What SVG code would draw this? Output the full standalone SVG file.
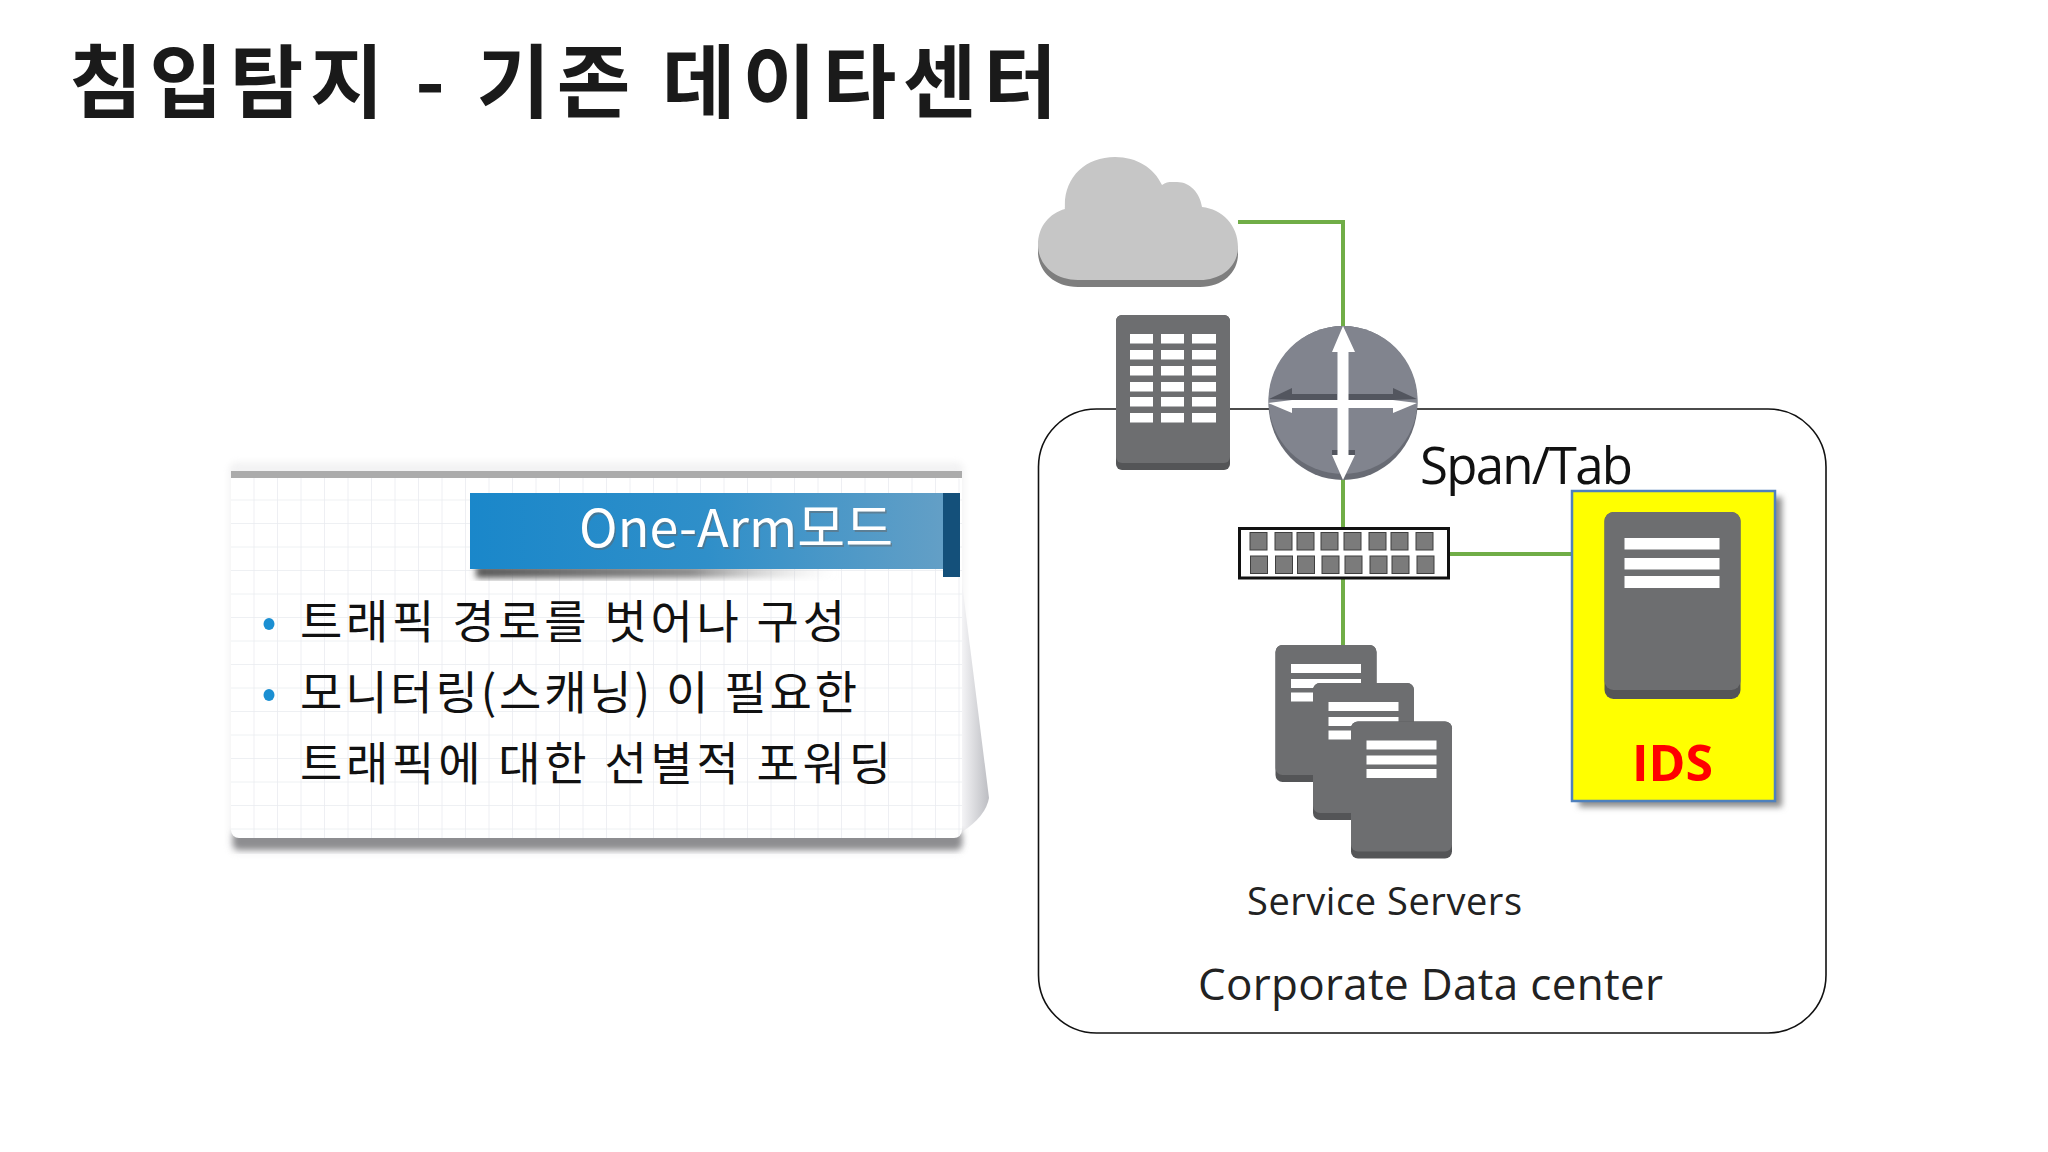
<svg xmlns="http://www.w3.org/2000/svg" width="2048" height="1152" viewBox="0 0 2048 1152">
<style>
.ko{font-family:"Noto Sans CJK KR","Noto Sans",sans-serif}
.la{font-family:"Open Sans","Noto Sans",sans-serif}
.body{font-size:46px;fill:#111;font-weight:400}
.wire{fill:none;stroke:#70ad47;stroke-width:4}
.dk{fill:#6d6e70}
.rim{fill:#545557}
.bar{fill:#fff}
.port{fill:#7b7b7b;stroke:#3f3f3f;stroke-width:1}
</style>
<defs>
<filter id="b3" x="-20%" y="-20%" width="140%" height="140%"><feGaussianBlur stdDeviation="3"/></filter>
<linearGradient id="ban" x1="0" x2="1" y1="0" y2="0"><stop offset="0" stop-color="#1a87ca"/><stop offset="0.5" stop-color="#2f8fc9"/><stop offset="1" stop-color="#639fc6"/></linearGradient>
<linearGradient id="bsh" x1="0" x2="1" y1="0" y2="0"><stop offset="0" stop-color="#555"/><stop offset="0.6" stop-color="#8a8a8a"/><stop offset="1" stop-color="#ddd" stop-opacity="0"/></linearGradient>
<pattern id="grid" width="23.500" height="23.500" patternUnits="userSpaceOnUse" x="231" y="477"><path d="M23.500 0V23.500M0 23.500H23.500" fill="none" stroke="#e9ebf0" stroke-width="1.500"/></pattern>
<linearGradient id="curl" x1="0" x2="1" y1="0" y2="0"><stop offset="0" stop-color="#f4f4f6"/><stop offset="1" stop-color="#bcbdc2"/></linearGradient>
<g id="srv">
<rect x="0" y="0" width="101" height="137" rx="7" class="rim"/>
<path d="M7 0H94a7 7 0 0 1 7 7V123a7 7 0 0 1-7 7H7a7 7 0 0 1-7-7V7a7 7 0 0 1 7-7Z" class="dk"/>
<rect x="15.500" y="19" width="70" height="9" class="bar"/><rect x="15.500" y="34" width="70" height="9" class="bar"/><rect x="15.500" y="47.500" width="70" height="9" class="bar"/>
</g>
</defs>
<rect width="2048" height="1152" fill="#fff"/>
<text id="title" class="ko" x="69" y="111" font-size="80" font-weight="700" fill="#1a1a1a" textLength="988" lengthAdjust="spacing">침입탐지 - 기존 데이타센터</text>

<g id="card">
<rect x="229" y="462" width="735" height="392" rx="8" fill="#dcdcdf" opacity=".35" filter="url(#b3)"/>
<path d="M962 583L989 798Q986 816 962 832Z" fill="url(#curl)"/>
<rect x="233" y="830" width="729" height="20" rx="6" fill="#8d8d90" filter="url(#b3)"/>
<rect x="231" y="471" width="731" height="367" rx="8" fill="#fff"/>
<rect x="231" y="477" width="731" height="361" rx="8" fill="url(#grid)"/>
<rect x="231" y="471" width="731" height="7" fill="#ababab"/>
<rect x="476" y="566" width="360" height="12" fill="url(#bsh)" filter="url(#b3)"/>
<rect x="470" y="493" width="473" height="76" fill="url(#ban)"/>
<rect x="943" y="493" width="17" height="84" fill="#14507a"/>
<text class="ko" x="579" y="547" font-size="52" font-weight="400" fill="#666" opacity=".5" textLength="314" lengthAdjust="spacing" transform="translate(1.500 1.500)">One-Arm모드</text>
<text class="ko" x="579" y="547" font-size="52" font-weight="400" fill="#fff" textLength="314" lengthAdjust="spacing">One-Arm모드</text>
<ellipse cx="269" cy="624" rx="5.500" ry="6" fill="#1b8fd2"/>
<ellipse cx="269" cy="695" rx="5.500" ry="6" fill="#1b8fd2"/>
<text class="ko body" x="300" y="638" textLength="545" lengthAdjust="spacing">트래픽 경로를 벗어나 구성</text>
<text class="ko body" x="300" y="709" textLength="557" lengthAdjust="spacing">모니터링(스캐닝) 이 필요한</text>
<text class="ko body" x="300" y="780" textLength="591" lengthAdjust="spacing">트래픽에 대한 선별적 포워딩</text>
</g>

<g id="datacenter">
<rect x="1038.500" y="409" width="787.500" height="624" rx="58" fill="none" stroke="#111" stroke-width="1.600"/>
<text class="la" x="1198" y="1000" font-size="44" fill="#222" textLength="465" lengthAdjust="spacing">Corporate Data center</text>
</g>

<g id="connectors">
<path class="wire" d="M1238 222H1343V330"/>
<path class="wire" d="M1343 478V527"/>
<path class="wire" d="M1450 554H1572"/>
<path class="wire" d="M1343 579V645"/>
</g>

<g id="cloud">
<path transform="translate(0 7)" fill="#7e7e7e" d="M1078 280C1054 280 1038 264 1038 245C1038 226 1050 213 1065 209C1063 178 1085 157 1115 157C1137 157 1154 168 1162 185C1167 181 1172 182 1177 182C1190 182 1200 193 1202 207C1222 209 1238 225 1238 247C1238 266 1222 280 1200 280Z"/>
<path fill="#c6c6c6" d="M1078 280C1054 280 1038 264 1038 245C1038 226 1050 213 1065 209C1063 178 1085 157 1115 157C1137 157 1154 168 1162 185C1167 181 1172 182 1177 182C1190 182 1200 193 1202 207C1222 209 1238 225 1238 247C1238 266 1222 280 1200 280Z"/>
</g>

<g id="building">
<rect x="1116" y="315" width="114" height="155" rx="6" class="rim"/>
<rect x="1116" y="315" width="114" height="148" rx="6" class="dk"/>
<g class="bar">
<rect x="1130" y="334" width="23" height="9.500"/><rect x="1161" y="334" width="23" height="9.500"/><rect x="1192" y="334" width="24" height="9.500"/>
<rect x="1130" y="350" width="23" height="9.500"/><rect x="1161" y="350" width="23" height="9.500"/><rect x="1192" y="350" width="24" height="9.500"/>
<rect x="1130" y="366" width="23" height="9.500"/><rect x="1161" y="366" width="23" height="9.500"/><rect x="1192" y="366" width="24" height="9.500"/>
<rect x="1130" y="382" width="23" height="9.500"/><rect x="1161" y="382" width="23" height="9.500"/><rect x="1192" y="382" width="24" height="9.500"/>
<rect x="1130" y="397" width="23" height="9.500"/><rect x="1161" y="397" width="23" height="9.500"/><rect x="1192" y="397" width="24" height="9.500"/>
<rect x="1130" y="413" width="23" height="9.500"/><rect x="1161" y="413" width="23" height="9.500"/><rect x="1192" y="413" width="24" height="9.500"/>
</g>
</g>

<g id="router">
<ellipse cx="1343" cy="403" rx="74.500" ry="77" fill="#686b74"/>
<ellipse cx="1343" cy="400" rx="74.500" ry="74" fill="#81848e"/>
<path d="M1269 399L1292 388V394H1337V400H1292ZM1417 399L1393 388V394H1348V400H1393ZM1332 450H1355V456H1332Z" fill="#53565f"/>
<path fill="#fff" d="M1343 326L1355 352H1348.500V400H1393L1417 403L1393 413V408H1348.500V455H1355L1343 480L1332 455H1337.500V408H1292V413L1268 403L1292 400H1337.500V352H1332Z"/>
</g>

<g id="switch">
<rect x="1239.500" y="528.500" width="209" height="49.500" fill="#fff" stroke="#111" stroke-width="3"/>
<g class="port">
<rect x="1250" y="532.500" width="17" height="17.500"/><rect x="1275" y="532.500" width="17" height="17.500"/><rect x="1297" y="532.500" width="17" height="17.500"/><rect x="1321" y="532.500" width="17" height="17.500"/><rect x="1344" y="532.500" width="17" height="17.500"/><rect x="1369" y="532.500" width="17" height="17.500"/><rect x="1391" y="532.500" width="17" height="17.500"/><rect x="1416" y="532.500" width="17" height="17.500"/>
<rect x="1250.500" y="556" width="17" height="17.500"/><rect x="1275.500" y="556" width="17" height="17.500"/><rect x="1297.500" y="556" width="17" height="17.500"/><rect x="1322" y="556" width="17" height="17.500"/><rect x="1345" y="556" width="17" height="17.500"/><rect x="1370" y="556" width="17" height="17.500"/><rect x="1392" y="556" width="17" height="17.500"/><rect x="1417" y="556" width="17" height="17.500"/>
</g>
</g>

<g id="span-label"><text class="la" x="1420" y="484" font-size="51" fill="#111" textLength="213" lengthAdjust="spacing">Span/Tab</text></g>

<g id="service-servers">
<use href="#srv" x="1275.500" y="645"/>
<use href="#srv" x="1313" y="683"/>
<use href="#srv" x="1351" y="721.500"/>
<text class="la" x="1247" y="915" font-size="38" fill="#222" textLength="275" lengthAdjust="spacing">Service Servers</text>
</g>

<g id="ids">
<rect x="1579" y="497" width="203" height="310" fill="#8c8c8c" filter="url(#b3)"/>
<rect x="1572" y="491" width="203" height="310" fill="#ffff00" stroke="#4f81bd" stroke-width="2.500"/>
<rect x="1604.500" y="512" width="136" height="187" rx="9" class="rim"/>
<rect x="1604.500" y="512" width="136" height="178" rx="9" class="dk"/>
<rect x="1624.500" y="538" width="95" height="11.500" class="bar"/><rect x="1624.500" y="558" width="95" height="11.500" class="bar"/><rect x="1624.500" y="576" width="95" height="12" class="bar"/>
<text class="la" x="1632" y="781" font-size="51" font-weight="700" fill="#ff0000" textLength="81" lengthAdjust="spacingAndGlyphs">IDS</text>
</g>
</svg>
